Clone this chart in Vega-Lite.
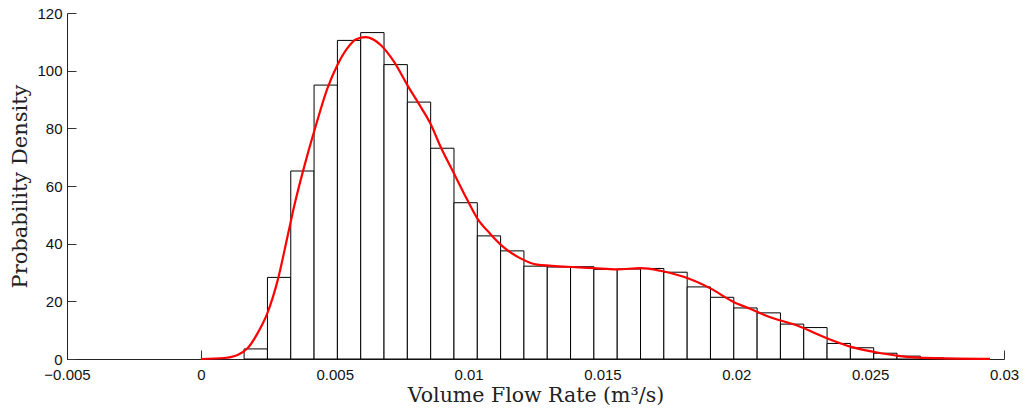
{
  "$schema": "https://vega.github.io/schema/vega-lite/v6.json",
  "width": 937,
  "height": 346,
  "autosize": {"type": "none"},
  "padding": {"left": 67, "top": 13, "right": 19, "bottom": 51},
  "background": "white",
  "config": {
    "view": {"stroke": null},
    "axis": {"grid": false, "labelFont": "Liberation Sans", "labelFontSize": 15, "labelColor": "#111", "titleFont": "DejaVu Serif", "titleFontSize": 20.5, "titleFontWeight": "normal", "titleColor": "#222", "domainColor": "#222", "tickColor": "#333"}
  },
  "datasets": {
    "bins": [
      {"x0": 0.001616, "x1": 0.002487, "density": 3.5},
      {"x0": 0.002487, "x1": 0.003358, "density": 28.3},
      {"x0": 0.003358, "x1": 0.004229, "density": 65.2},
      {"x0": 0.004229, "x1": 0.0051, "density": 95.0},
      {"x0": 0.0051, "x1": 0.005971, "density": 110.5},
      {"x0": 0.005971, "x1": 0.006842, "density": 113.2},
      {"x0": 0.006842, "x1": 0.007713, "density": 102.1},
      {"x0": 0.007713, "x1": 0.008584, "density": 89.1},
      {"x0": 0.008584, "x1": 0.009455, "density": 73.1},
      {"x0": 0.009455, "x1": 0.010326, "density": 54.2},
      {"x0": 0.010326, "x1": 0.011197, "density": 42.7},
      {"x0": 0.011197, "x1": 0.012068, "density": 37.5},
      {"x0": 0.012068, "x1": 0.012939, "density": 32.2},
      {"x0": 0.012939, "x1": 0.01381, "density": 31.9},
      {"x0": 0.01381, "x1": 0.014681, "density": 32.0},
      {"x0": 0.014681, "x1": 0.015552, "density": 31.1},
      {"x0": 0.015552, "x1": 0.016423, "density": 31.2},
      {"x0": 0.016423, "x1": 0.017294, "density": 31.4},
      {"x0": 0.017294, "x1": 0.018165, "density": 30.1},
      {"x0": 0.018165, "x1": 0.019036, "density": 25.0},
      {"x0": 0.019036, "x1": 0.019907, "density": 21.4},
      {"x0": 0.019907, "x1": 0.020778, "density": 17.7},
      {"x0": 0.020778, "x1": 0.021649, "density": 16.0},
      {"x0": 0.021649, "x1": 0.02252, "density": 12.1},
      {"x0": 0.02252, "x1": 0.023391, "density": 10.9},
      {"x0": 0.023391, "x1": 0.024262, "density": 5.4},
      {"x0": 0.024262, "x1": 0.025133, "density": 3.9},
      {"x0": 0.025133, "x1": 0.026004, "density": 2.0},
      {"x0": 0.026004, "x1": 0.026875, "density": 1.0},
      {"x0": 0.026875, "x1": 0.027746, "density": 0.4}
    ],
    "curve": [
      {"x": 0.0, "y": 0.0},
      {"x": 0.000869, "y": 0.35},
      {"x": 0.001369, "y": 1.4},
      {"x": 0.001743, "y": 3.7},
      {"x": 0.002116, "y": 8.9},
      {"x": 0.002489, "y": 16.0},
      {"x": 0.002862, "y": 27.0},
      {"x": 0.003235, "y": 42.4},
      {"x": 0.003481, "y": 52.8},
      {"x": 0.003981, "y": 70.8},
      {"x": 0.004228, "y": 78.8},
      {"x": 0.004728, "y": 93.9},
      {"x": 0.005101, "y": 102.0},
      {"x": 0.005474, "y": 107.8},
      {"x": 0.005784, "y": 110.8},
      {"x": 0.006157, "y": 111.6},
      {"x": 0.006716, "y": 108.9},
      {"x": 0.007213, "y": 103.1},
      {"x": 0.007713, "y": 95.0},
      {"x": 0.008209, "y": 87.5},
      {"x": 0.008582, "y": 81.5},
      {"x": 0.008955, "y": 73.6},
      {"x": 0.009451, "y": 64.4},
      {"x": 0.009951, "y": 55.2},
      {"x": 0.010325, "y": 48.8},
      {"x": 0.010821, "y": 43.3},
      {"x": 0.011317, "y": 38.7},
      {"x": 0.01194, "y": 34.9},
      {"x": 0.012563, "y": 32.7},
      {"x": 0.013683, "y": 32.0},
      {"x": 0.014675, "y": 31.5},
      {"x": 0.015549, "y": 31.1},
      {"x": 0.016418, "y": 31.5},
      {"x": 0.017164, "y": 30.6},
      {"x": 0.018034, "y": 28.5},
      {"x": 0.01903, "y": 24.5},
      {"x": 0.019899, "y": 19.8},
      {"x": 0.020522, "y": 17.4},
      {"x": 0.021146, "y": 14.9},
      {"x": 0.022388, "y": 11.2},
      {"x": 0.023384, "y": 7.2},
      {"x": 0.024254, "y": 4.3},
      {"x": 0.025123, "y": 2.5},
      {"x": 0.026119, "y": 1.0},
      {"x": 0.027362, "y": 0.3},
      {"x": 0.029478, "y": 0.05}
    ]
  },
  "layer": [
    {
      "data": {"name": "bins"},
      "mark": {"type": "rect", "fill": "white", "stroke": "black", "strokeWidth": 1},
      "encoding": {
        "x": {"field": "x0", "type": "quantitative", "scale": {"domain": [-0.005, 0.03], "nice": false, "zero": false},
          "axis": {"title": "Volume Flow Rate (m³/s)", "values": [-0.005, 0, 0.005, 0.01, 0.015, 0.02, 0.025, 0.03], "format": "~g", "tickSize": -9, "labelPadding": 17, "titlePadding": 3, "labelFlush": false}},
        "x2": {"field": "x1"},
        "y": {"field": "density", "type": "quantitative", "scale": {"domain": [0, 120], "nice": false},
          "axis": {"title": "Probability Density", "titleFontSize": 21, "values": [0, 20, 40, 60, 80, 100, 120], "tickSize": -9, "labelPadding": 14, "titlePadding": 6}},
        "y2": {"datum": 0}
      }
    },
    {
      "data": {"name": "curve"},
      "mark": {"type": "line", "color": "#ff0000", "strokeWidth": 2.2, "interpolate": "monotone"},
      "encoding": {
        "x": {"field": "x", "type": "quantitative"},
        "y": {"field": "y", "type": "quantitative"}
      }
    }
  ]
}
